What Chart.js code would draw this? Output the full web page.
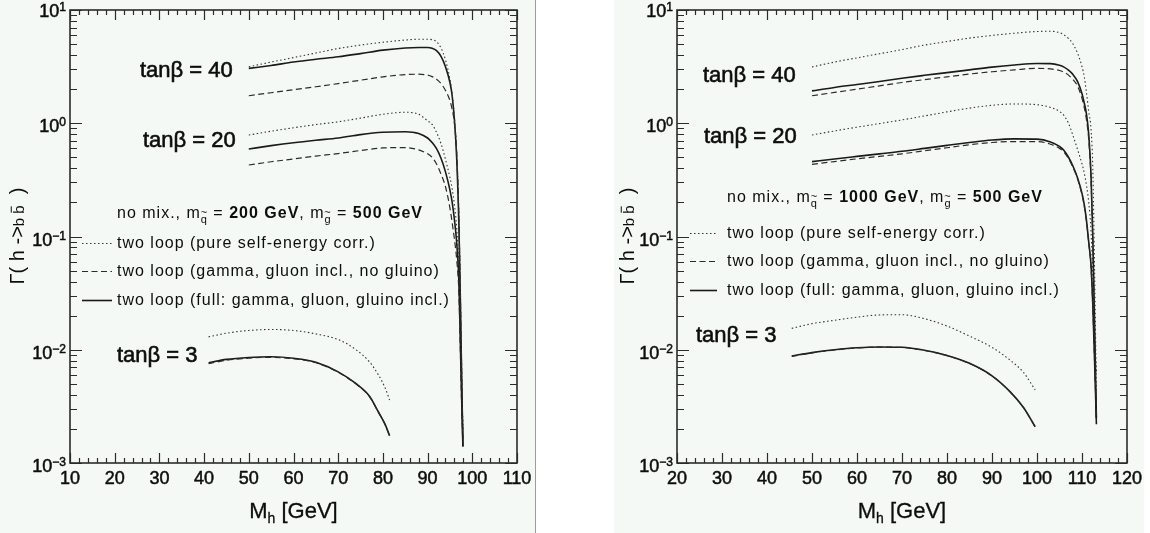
<!DOCTYPE html>
<html>
<head>
<meta charset="utf-8">
<script src="https://cdn.jsdelivr.net/npm/chart.js@4.4.1/dist/chart.umd.min.js"></script>
<style>
  html, body { margin: 0; padding: 0; width: 1150px; height: 533px; overflow: hidden; background: #fff; }
  .panel { position: absolute; top: 0; height: 533px; background: #f4f9f6; }
  #pL { left: 0; width: 535px; border-right: 1px solid #9c9c9c; }
  #pR { left: 614px; width: 530px; }
  canvas { display: block; }
</style>
</head>
<body>
<div class="panel" id="pL"><canvas id="cL" width="535" height="533"></canvas></div>
<div class="panel" id="pR"><canvas id="cR" width="530" height="533"></canvas></div>
<script>
// ---- data (M_h in GeV, width in GeV) ----
const massL = [50, 55, 60, 65, 70, 75, 80, 85, 88, 90, 91, 92, 93, 94, 95, 95.5, 96, 96.5, 97, 97.3, 97.6, 97.9];
const gL40dot = [3.15, 3.47, 3.8, 4.17, 4.57, 4.9, 5.19, 5.43, 5.52, 5.52, 5.47, 5.25, 4.62, 3.63, 2.45, 1.82, 1.12, 0.56, 0.16, 0.04, 0.008, 0.002];
const gL40dash = [1.75, 1.86, 1.98, 2.1, 2.24, 2.4, 2.57, 2.69, 2.71, 2.66, 2.58, 2.45, 2.24, 1.95, 1.58, 1.32, 1.0, 0.56, 0.141, 0.035, 0.0071, 0.0016];
const gL40full = [3.05, 3.24, 3.47, 3.67, 3.86, 4.12, 4.42, 4.62, 4.66, 4.66, 4.59, 4.37, 3.89, 3.16, 2.29, 1.74, 1.07, 0.5, 0.126, 0.032, 0.0063, 0.0014];
const gL20dot = [0.787, 0.851, 0.912, 0.973, 1.03, 1.11, 1.2, 1.25, 1.2, 1.05, 0.977, 0.832, 0.66, 0.479, 0.331, 0.263, 0.19, 0.12, 0.05, 0.0158, 0.005, 0.002];
const gL20dash = [0.428, 0.457, 0.484, 0.513, 0.54, 0.575, 0.605, 0.61, 0.582, 0.537, 0.5, 0.437, 0.355, 0.275, 0.178, 0.132, 0.095, 0.063, 0.032, 0.0112, 0.0035, 0.0016];
const gL20full = [0.593, 0.634, 0.673, 0.708, 0.741, 0.794, 0.832, 0.841, 0.813, 0.741, 0.676, 0.596, 0.49, 0.372, 0.257, 0.2, 0.141, 0.089, 0.04, 0.0126, 0.004, 0.0014];

const massL3 = [41, 45, 50, 55, 60, 65, 70, 74, 77, 79, 80.5, 81.5];
const gL3dot = [0.0130, 0.0140, 0.0148, 0.0151, 0.0148, 0.0138, 0.0123, 0.0100, 0.0078, 0.0060, 0.0046, 0.0036];
const gL3dash = [0.00752, 0.00808, 0.00843, 0.00857, 0.00832, 0.00768, 0.00632, 0.00497, 0.00386, 0.0028, 0.00218, 0.00173];
const gL3full = [0.00769, 0.00822, 0.00855, 0.00867, 0.00841, 0.00776, 0.00638, 0.00501, 0.00389, 0.00282, 0.00219, 0.00174];

const massR = [50, 55, 60, 65, 70, 75, 80, 85, 90, 95, 100, 103, 105, 106, 107, 108, 109, 110, 110.5, 111, 111.5, 112, 112.4, 112.8, 113.2];
const gR40dot = [3.14, 3.47, 3.78, 4.11, 4.47, 4.9, 5.27, 5.65, 5.96, 6.24, 6.46, 6.49, 6.31, 6.03, 5.6, 5.01, 4.17, 3.16, 2.57, 1.86, 1.26, 0.89, 0.4, 0.05, 0.004];
const gR40dash = [1.75, 1.87, 2.0, 2.14, 2.29, 2.43, 2.57, 2.72, 2.85, 2.96, 3.05, 3.02, 2.92, 2.82, 2.66, 2.43, 2.14, 1.66, 1.38, 1.07, 0.71, 0.316, 0.089, 0.014, 0.0025];
const gR40full = [1.93, 2.07, 2.2, 2.34, 2.5, 2.65, 2.8, 2.96, 3.13, 3.27, 3.37, 3.36, 3.25, 3.13, 2.94, 2.69, 2.34, 1.82, 1.51, 1.2, 0.79, 0.355, 0.1, 0.016, 0.0025];
const gR20dot = [0.787, 0.855, 0.923, 0.993, 1.07, 1.16, 1.26, 1.36, 1.44, 1.48, 1.46, 1.38, 1.27, 1.17, 1.0, 0.776, 0.589, 0.437, 0.363, 0.282, 0.2, 0.112, 0.0447, 0.0126, 0.0063];
const gR20dash = [0.434, 0.459, 0.485, 0.51, 0.537, 0.571, 0.608, 0.646, 0.676, 0.689, 0.689, 0.653, 0.6, 0.556, 0.488, 0.407, 0.324, 0.234, 0.186, 0.135, 0.087, 0.0537, 0.024, 0.0079, 0.0025];
const gR20full = [0.458, 0.484, 0.51, 0.537, 0.565, 0.6, 0.638, 0.676, 0.711, 0.728, 0.724, 0.684, 0.624, 0.575, 0.501, 0.417, 0.331, 0.24, 0.191, 0.138, 0.089, 0.056, 0.025, 0.0079, 0.0022];

const massR3 = [45.5, 50, 55, 60, 65, 70, 75, 80, 85, 90, 94, 97, 99.6];
const gR3dot = [0.01545, 0.0170, 0.0182, 0.0194, 0.0203, 0.0204, 0.0188, 0.0162, 0.0132, 0.0105, 0.0081, 0.0063, 0.00442];
const gR3dash = [0.00875, 0.00938, 0.00995, 0.01037, 0.01055, 0.01048, 0.00985, 0.00888, 0.00756, 0.00587, 0.00425, 0.00308, 0.00208];
const gR3full = [0.00881, 0.00944, 0.0100, 0.01042, 0.01059, 0.01052, 0.00989, 0.00891, 0.00759, 0.00589, 0.00427, 0.00309, 0.00209];

// axes
const xTicksL = [10, 20, 30, 40, 50, 60, 70, 80, 90, 100, 110];
const xTicksR = [20, 30, 40, 50, 60, 70, 80, 90, 100, 110, 120];
const yDecades = [-3, -2, -1, 0, 1];

// texts
const legendText = [
  'two loop (pure self-energy corr.)',
  'two loop (gamma, gluon incl., no gluino)',
  'two loop (full: gamma, gluon, gluino incl.)'
];
const tanbLabels = ['tanβ = 40', 'tanβ = 20', 'tanβ = 3'];
const squarkL = '200 GeV';
const squarkR = '1000 GeV';
const gluino = '500 GeV';

const FONT = '"Liberation Sans", Arial, Helvetica, sans-serif';
const font = (s, b) => (b ? 'bold ' : '') + s + 'px ' + FONT;

const STYLES = {
  dot:  { borderColor: '#333', borderWidth: 1.1, borderDash: [1.5, 2.5] },
  dash: { borderColor: '#2a2a2a', borderWidth: 1.2, borderDash: [6, 3.5] },
  full: { borderColor: '#1a1a1a', borderWidth: 1.6, borderDash: [] }
};

function curve(mass, vals, kind) {
  return {
    data: mass.map((m, i) => ({ x: m, y: vals[i] })),
    ...STYLES[kind],
    pointRadius: 0,
    fill: false,
    cubicInterpolationMode: 'monotone'
  };
}

// text made of pieces (sub/superscripts, tilde, bar); heavy = faint outline
function drawRich(ctx, x, y, segs, align, heavy) {
  let w = 0;
  for (const g of segs) { ctx.font = font(g.s, g.b); w += ctx.measureText(g.t).width; }
  let cx = align === 'center' ? x - w / 2 : align === 'right' ? x - w : x;
  ctx.textAlign = 'left';
  ctx.textBaseline = 'alphabetic';
  for (const g of segs) {
    ctx.font = font(g.s, g.b);
    const tw = ctx.measureText(g.t).width;
    const yy = y + (g.dy || 0);
    ctx.fillText(g.t, cx, yy);
    if (heavy) { ctx.lineWidth = heavy; ctx.strokeText(g.t, cx, yy); }
    if (g.tilde) {
      ctx.font = font(g.s);
      ctx.textAlign = 'center';
      ctx.fillText('~', cx + tw / 2, yy - g.s * 0.62);
      ctx.textAlign = 'left';
    }
    if (g.bar) {
      ctx.beginPath();
      ctx.lineWidth = 1;
      ctx.moveTo(cx + 1, yy - g.s * 0.85);
      ctx.lineTo(cx + tw - 1, yy - g.s * 0.85);
      ctx.stroke();
    }
    cx += tw;
  }
  return w;
}

const frameAxes = {
  id: 'frameAxes',
  afterDatasetsDraw(chart, args, o) {
    const { ctx, chartArea: a, scales: { x, y } } = chart;
    ctx.save();
    ctx.strokeStyle = '#2b2b2b';
    ctx.fillStyle = '#0d0d0d';

    // frame
    ctx.lineWidth = 1.6;
    ctx.strokeRect(a.left, a.top, a.right - a.left, a.bottom - a.top);

    // ticks
    ctx.lineWidth = 1.2;
    ctx.beginPath();
    for (let v = x.min; v <= x.max + 1e-9; v += 2) {
      const px = Math.round(x.getPixelForValue(v)) + 0.5;
      const len = o.xTicks.includes(v) ? 10 : 5;
      ctx.moveTo(px, a.bottom); ctx.lineTo(px, a.bottom - len);
      ctx.moveTo(px, a.top); ctx.lineTo(px, a.top + len);
    }
    for (const e of yDecades) {
      for (let k = 1; k < 10; k++) {
        const v = k * Math.pow(10, e);
        if (v > y.max * 1.0001) break;
        const py = Math.round(y.getPixelForValue(v)) + 0.5;
        const len = k === 1 ? 12 : 7;
        ctx.moveTo(a.left, py); ctx.lineTo(a.left + len, py);
        ctx.moveTo(a.right, py); ctx.lineTo(a.right - len, py);
      }
    }
    ctx.stroke();

    // tick labels
    ctx.strokeStyle = '#0d0d0d';
    for (const v of o.xTicks) {
      drawRich(ctx, x.getPixelForValue(v), a.bottom + 21, [{ t: String(v), s: 18 }], 'center', 0.5);
    }
    for (const e of yDecades) {
      const py = y.getPixelForValue(Math.pow(10, e));
      const exp = e < 0 ? '\u2212' + (-e) : String(e);
      drawRich(ctx, a.left - 4, py + (e === 1 ? 7 : 9), [
        { t: '10', s: 18 },
        { t: exp, s: 12, dy: -6 }
      ], 'right', 0.5);
    }

    // axis titles
    drawRich(ctx, (a.left + a.right) / 2, 518, [
      { t: 'M', s: 22 },
      { t: 'h', s: 14, dy: 5 },
      { t: ' [GeV]', s: 22 }
    ], 'center', 0.3);
    ctx.save();
    ctx.translate(o.yTitleX, 236);
    ctx.rotate(-Math.PI / 2);
    drawRich(ctx, 0, 7, [
      { t: '\u0393( h ->', s: 20 },
      { t: 'b ', s: 15 },
      { t: 'b', s: 15, bar: true },
      { t: '  )', s: 20 }
    ], 'center');
    ctx.restore();

    // tan beta labels
    o.tanb.forEach((p, i) => drawRich(ctx, p[0], p[1], [{ t: tanbLabels[i], s: 22 }], 'left', 0.6));

    // mass line and legend, set a little wide like the original
    ctx.letterSpacing = '1px';
    drawRich(ctx, o.text.x, o.massY, [
      { t: 'no mix., m', s: 16 },
      { t: 'q', s: 11, dy: 5, tilde: true },
      { t: ' = ', s: 16 },
      { t: o.squark, s: 16, b: true },
      { t: ', m', s: 16 },
      { t: 'g', s: 11, dy: 5, tilde: true },
      { t: ' = ', s: 16 },
      { t: gluino, s: 16, b: true }
    ]);

    const kinds = ['dot', 'dash', 'full'];
    o.legendY.forEach((ly, i) => {
      const st = STYLES[kinds[i]];
      ctx.beginPath();
      ctx.strokeStyle = st.borderColor;
      ctx.lineWidth = st.borderWidth;
      ctx.setLineDash(st.borderDash);
      ctx.moveTo(o.sample[0], ly + 0.5);
      ctx.lineTo(o.sample[1], ly + 0.5);
      ctx.stroke();
      ctx.setLineDash([]);
      ctx.font = font(16);
      ctx.fillText(legendText[i], o.text.x, ly + 5);
    });
    ctx.letterSpacing = '0px';
    ctx.restore();
  }
};

function makeChart(id, xMin, xMax, pad, datasets, opts) {
  return new Chart(document.getElementById(id), {
    type: 'line',
    data: { datasets },
    options: {
      responsive: false,
      animation: false,
      layout: { padding: pad },
      plugins: { legend: { display: false }, tooltip: { enabled: false }, frameAxes: opts },
      scales: {
        x: { type: 'linear', min: xMin, max: xMax, display: false },
        y: { type: 'logarithmic', min: 1e-3, max: 10, display: false }
      }
    },
    plugins: [frameAxes]
  });
}

makeChart('cL', 10, 110, { left: 70, top: 10, right: 18, bottom: 70 }, [
  curve(massL, gL40dot, 'dot'), curve(massL, gL40dash, 'dash'), curve(massL, gL40full, 'full'),
  curve(massL, gL20dot, 'dot'), curve(massL, gL20dash, 'dash'), curve(massL, gL20full, 'full'),
  curve(massL3, gL3dot, 'dot'), curve(massL3, gL3dash, 'dash'), curve(massL3, gL3full, 'full')
], {
  xTicks: xTicksL,
  yTitleX: 17,
  tanb: [[140, 77], [143, 147], [117, 362]],
  text: { x: 117 },
  massY: 218,
  squark: squarkL,
  legendY: [243, 271, 300],
  sample: [82, 112]
});

makeChart('cR', 20, 120, { left: 63, top: 10, right: 17, bottom: 70 }, [
  curve(massR, gR40dot, 'dot'), curve(massR, gR40dash, 'dash'), curve(massR, gR40full, 'full'),
  curve(massR, gR20dot, 'dot'), curve(massR, gR20dash, 'dash'), curve(massR, gR20full, 'full'),
  curve(massR3, gR3dot, 'dot'), curve(massR3, gR3dash, 'dash'), curve(massR3, gR3full, 'full')
], {
  xTicks: xTicksR,
  yTitleX: 13,
  tanb: [[89, 82], [90, 143], [82, 342]],
  text: { x: 113 },
  massY: 202,
  squark: squarkR,
  legendY: [233, 261, 290],
  sample: [76, 103]
});
</script>
</body>
</html>
